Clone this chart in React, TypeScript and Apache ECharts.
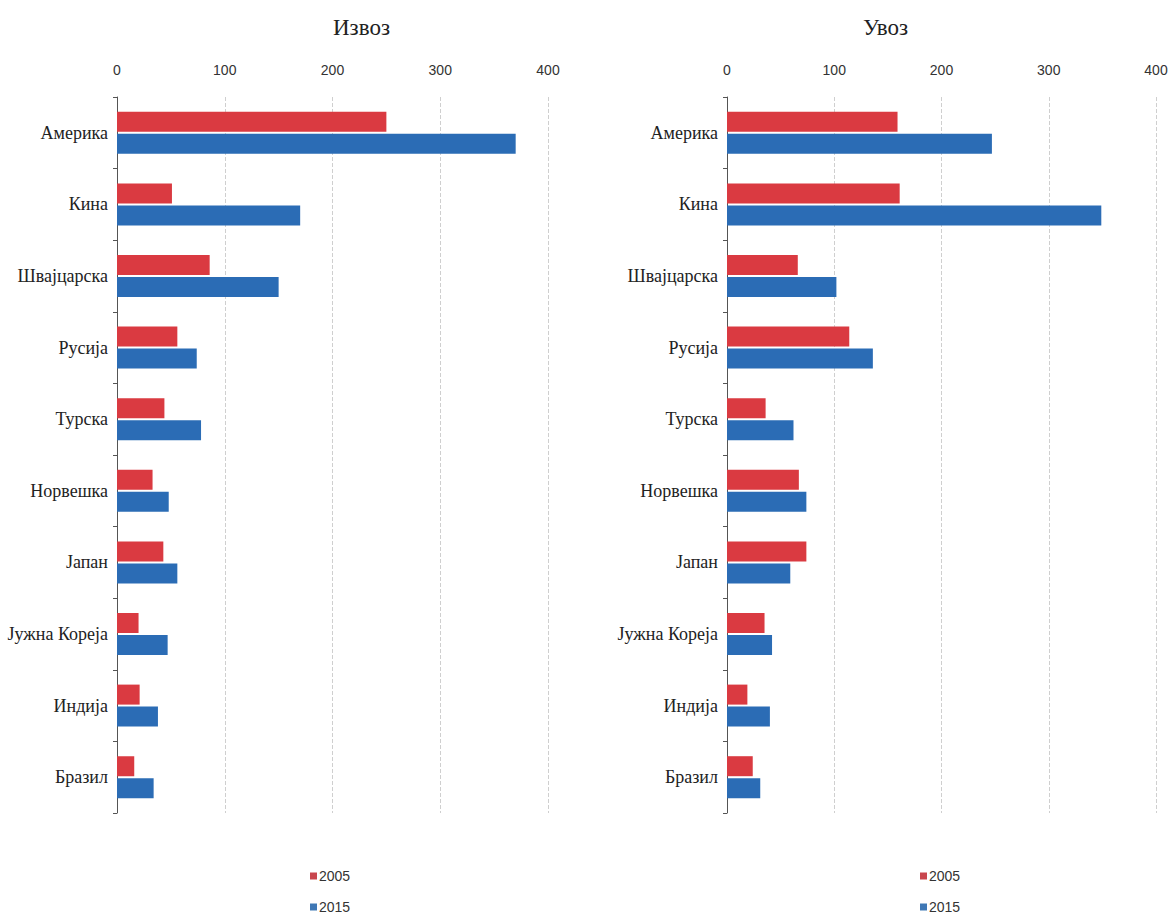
import React, { useEffect, useRef } from "react";
import * as echarts from "echarts";

const categories = ["Америка", "Кина", "Швајцарска", "Русија", "Турска", "Норвешка", "Јапан", "Јужна Кореја", "Индија", "Бразил"];
const export2005 = [250, 51, 86, 56, 44, 33, 43, 20, 21, 16];
const export2015 = [370, 170, 150, 74, 78, 48, 56, 47, 38, 34];
const import2005 = [159, 161, 66, 114, 36, 67, 74, 35, 19, 24];
const import2015 = [247, 349, 102, 136, 62, 74, 59, 42, 40, 31];
const xTicks = [0, 100, 200, 300, 400];
const titles = ["Извоз", "Увоз"];
const seriesNames = ["2005", "2015"];

const RED = "#da3a41";
const BLUE = "#2b6cb5";
const SERIF = "'Liberation Serif', 'Times New Roman', serif";
const NARROW = "'Liberation Sans Narrow', 'Liberation Sans', Arial, sans-serif";

export default function App() {
  const ref = useRef<HTMLDivElement>(null);
  useEffect(() => {
    document.body.style.margin = "0";
    if (!ref.current) return;
    const chart = echarts.init(ref.current, null, { renderer: "svg" });
    const grids = [
      { left: 117, width: 431, top: 97, height: 716 },
      { left: 727, width: 429, top: 97, height: 716 },
    ];
    const xAxis = grids.map((_, i) => ({
      type: "value",
      gridIndex: i,
      position: "top",
      min: xTicks[0],
      max: xTicks[xTicks.length - 1],
      interval: 100,
      axisLine: { show: false },
      axisTick: { show: false },
      axisLabel: { fontFamily: NARROW, fontSize: 14, color: "#333", margin: 20 },
      splitLine: { show: true, lineStyle: { type: "dashed", color: "#cfcfcf", width: 1 } },
    }));
    const yAxis = grids.map((_, i) => ({
      type: "category",
      gridIndex: i,
      data: categories,
      inverse: true,
      axisLine: { show: true, lineStyle: { color: "#555", width: 1 } },
      axisTick: { show: true, length: 4, lineStyle: { color: "#555" } },
      axisLabel: { fontFamily: SERIF, fontSize: 18, color: "#222", margin: 9 },
      splitLine: { show: false },
    }));
    const mk = (name: string, data: number[], color: string, idx: number) => ({
      type: "bar",
      name,
      data,
      xAxisIndex: idx,
      yAxisIndex: idx,
      barWidth: 20,
      barGap: "10%",
      itemStyle: { color },
    });
    const legendBase = (left: number) => ({
      orient: "vertical",
      left,
      top: 869,
      padding: 0,
      itemWidth: 7,
      itemHeight: 7,
      itemGap: 17,
      icon: "rect",
      selectedMode: false,
      textStyle: { fontFamily: NARROW, fontSize: 14, color: "#333", padding: [0, 0, 0, -3] },
      data: [
        { name: seriesNames[0], itemStyle: { color: "#c9464d" } },
        { name: seriesNames[1], itemStyle: { color: "#3f78b5" } },
      ],
    });
    chart.setOption({
      animation: false,
      backgroundColor: "#fff",
      graphic: [
        { type: "text", left: 333, top: 16, style: { text: titles[0], font: `23px ${SERIF}`, fill: "#222" } },
        { type: "text", left: 863, top: 16, style: { text: titles[1], font: `23px ${SERIF}`, fill: "#222" } },
      ],
      grid: grids,
      xAxis,
      yAxis,
      legend: [legendBase(310), legendBase(920)],
      series: [
        mk(seriesNames[0], export2005, RED, 0),
        mk(seriesNames[1], export2015, BLUE, 0),
        mk(seriesNames[0], import2005, RED, 1),
        mk(seriesNames[1], import2015, BLUE, 1),
      ],
    });
    return () => chart.dispose();
  }, []);
  return <div ref={ref} style={{ width: 1171, height: 914 }} />;
}
